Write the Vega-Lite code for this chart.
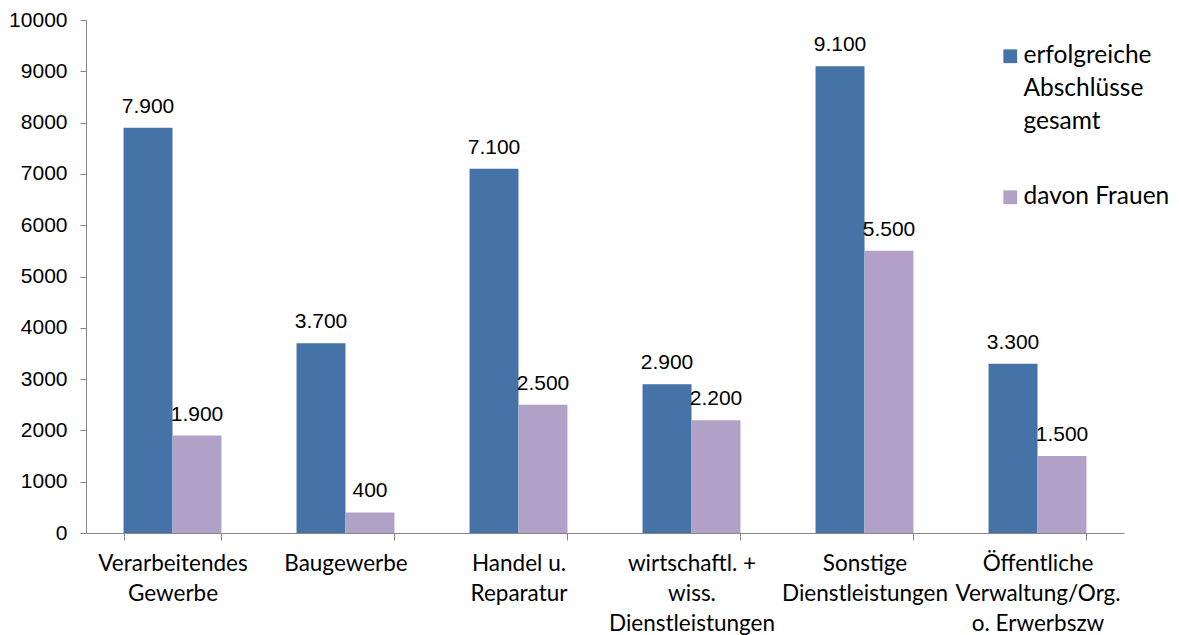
{
  "$schema": "https://vega.github.io/schema/vega-lite/v6.json",
  "autosize": {"type": "none"},
  "padding": {"left": 86, "top": 20, "right": 55, "bottom": 102},
  "width": 1038,
  "height": 513,
  "config": {
    "view": {"stroke": null},
    "style": {"guide-label": {"lineHeight": 33}},
    "locale": {"number": {"decimal": ",", "thousands": ".", "grouping": [3], "currency": ["", " €"]}}
  },
  "data": {
    "values": [
      {"branche": "Verarbeitendes Gewerbe", "serie": "erfolgreiche Abschlüsse gesamt", "wert": 7900},
      {"branche": "Verarbeitendes Gewerbe", "serie": "davon Frauen", "wert": 1900},
      {"branche": "Baugewerbe", "serie": "erfolgreiche Abschlüsse gesamt", "wert": 3700},
      {"branche": "Baugewerbe", "serie": "davon Frauen", "wert": 400},
      {"branche": "Handel u. Reparatur", "serie": "erfolgreiche Abschlüsse gesamt", "wert": 7100},
      {"branche": "Handel u. Reparatur", "serie": "davon Frauen", "wert": 2500},
      {"branche": "wirtschaftl. + wiss. Dienstleistungen", "serie": "erfolgreiche Abschlüsse gesamt", "wert": 2900},
      {"branche": "wirtschaftl. + wiss. Dienstleistungen", "serie": "davon Frauen", "wert": 2200},
      {"branche": "Sonstige Dienstleistungen", "serie": "erfolgreiche Abschlüsse gesamt", "wert": 9100},
      {"branche": "Sonstige Dienstleistungen", "serie": "davon Frauen", "wert": 5500},
      {"branche": "Öffentliche Verwaltung/Org. o. Erwerbszw", "serie": "erfolgreiche Abschlüsse gesamt", "wert": 3300},
      {"branche": "Öffentliche Verwaltung/Org. o. Erwerbszw", "serie": "davon Frauen", "wert": 1500}
    ]
  },
  "encoding": {
    "x": {
      "field": "branche",
      "type": "nominal",
      "sort": null,
      "scale": {"paddingInner": 0.434, "paddingOuter": 0.217},
      "axis": {
        "title": null,
        "labelAngle": 0,
        "tickBand": "extent",
        "domainColor": "#868686",
        "tickColor": "#868686",
        "tickSize": 7,
        "labelFont": "Lato",
        "labelFontSize": 22.5,
        "labelColor": "#000000",
        "labelPadding": 12,
        "labelBaseline": "top",
        "labelLineHeight": 30,
        "labelLimit": 300,
        "labelExpr": "({'Verarbeitendes Gewerbe': ['Verarbeitendes', 'Gewerbe'], 'Baugewerbe': ['Baugewerbe'], 'Handel u. Reparatur': ['Handel u.', 'Reparatur'], 'wirtschaftl. + wiss. Dienstleistungen': ['wirtschaftl. +', 'wiss.', 'Dienstleistungen'], 'Sonstige Dienstleistungen': ['Sonstige', 'Dienstleistungen'], 'Öffentliche Verwaltung/Org. o. Erwerbszw': ['Öffentliche', 'Verwaltung/Org.', 'o. Erwerbszw']})[datum.label]"
      }
    },
    "xOffset": {
      "field": "serie",
      "type": "nominal",
      "sort": ["erfolgreiche Abschlüsse gesamt", "davon Frauen"],
      "scale": {"paddingInner": 0, "paddingOuter": 0}
    },
    "y": {
      "field": "wert",
      "type": "quantitative",
      "scale": {"domain": [0, 10000], "nice": false},
      "axis": {
        "title": null,
        "values": [0, 1000, 2000, 3000, 4000, 5000, 6000, 7000, 8000, 9000, 10000],
        "format": "d",
        "grid": false,
        "domainColor": "#868686",
        "tickColor": "#868686",
        "tickSize": 6,
        "labelPadding": 13,
        "labelFont": "Liberation Sans",
        "labelFontSize": 21,
        "labelColor": "#000000"
      }
    }
  },
  "layer": [
    {
      "mark": {"type": "bar"},
      "encoding": {
        "color": {
          "field": "serie",
          "type": "nominal",
          "sort": ["erfolgreiche Abschlüsse gesamt", "davon Frauen"],
          "scale": {"domain": ["erfolgreiche Abschlüsse gesamt", "davon Frauen"], "range": ["#4572A7", "#B2A1C7"]},
          "legend": {
            "title": null,
            "orient": "none",
            "legendX": 912,
            "legendY": 24,
            "symbolType": "square",
            "symbolSize": 190,
            "symbolStrokeWidth": 0,
            "labelFont": "Lato",
            "labelFontSize": 24.5,
            "labelColor": "#000000",
            "labelOffset": 1,
            "labelLimit": 300,
            "rowPadding": 50,
            "labelExpr": "datum.label == 'erfolgreiche Abschlüsse gesamt' ? ['erfolgreiche', 'Abschlüsse', 'gesamt'] : datum.label"
          }
        }
      }
    },
    {
      "mark": {"type": "text", "font": "Liberation Sans", "fontSize": 21, "dy": -15, "baseline": "alphabetic", "color": "#000000"},
      "encoding": {
        "text": {"field": "wert", "type": "quantitative", "format": ",d"}
      }
    }
  ]
}
